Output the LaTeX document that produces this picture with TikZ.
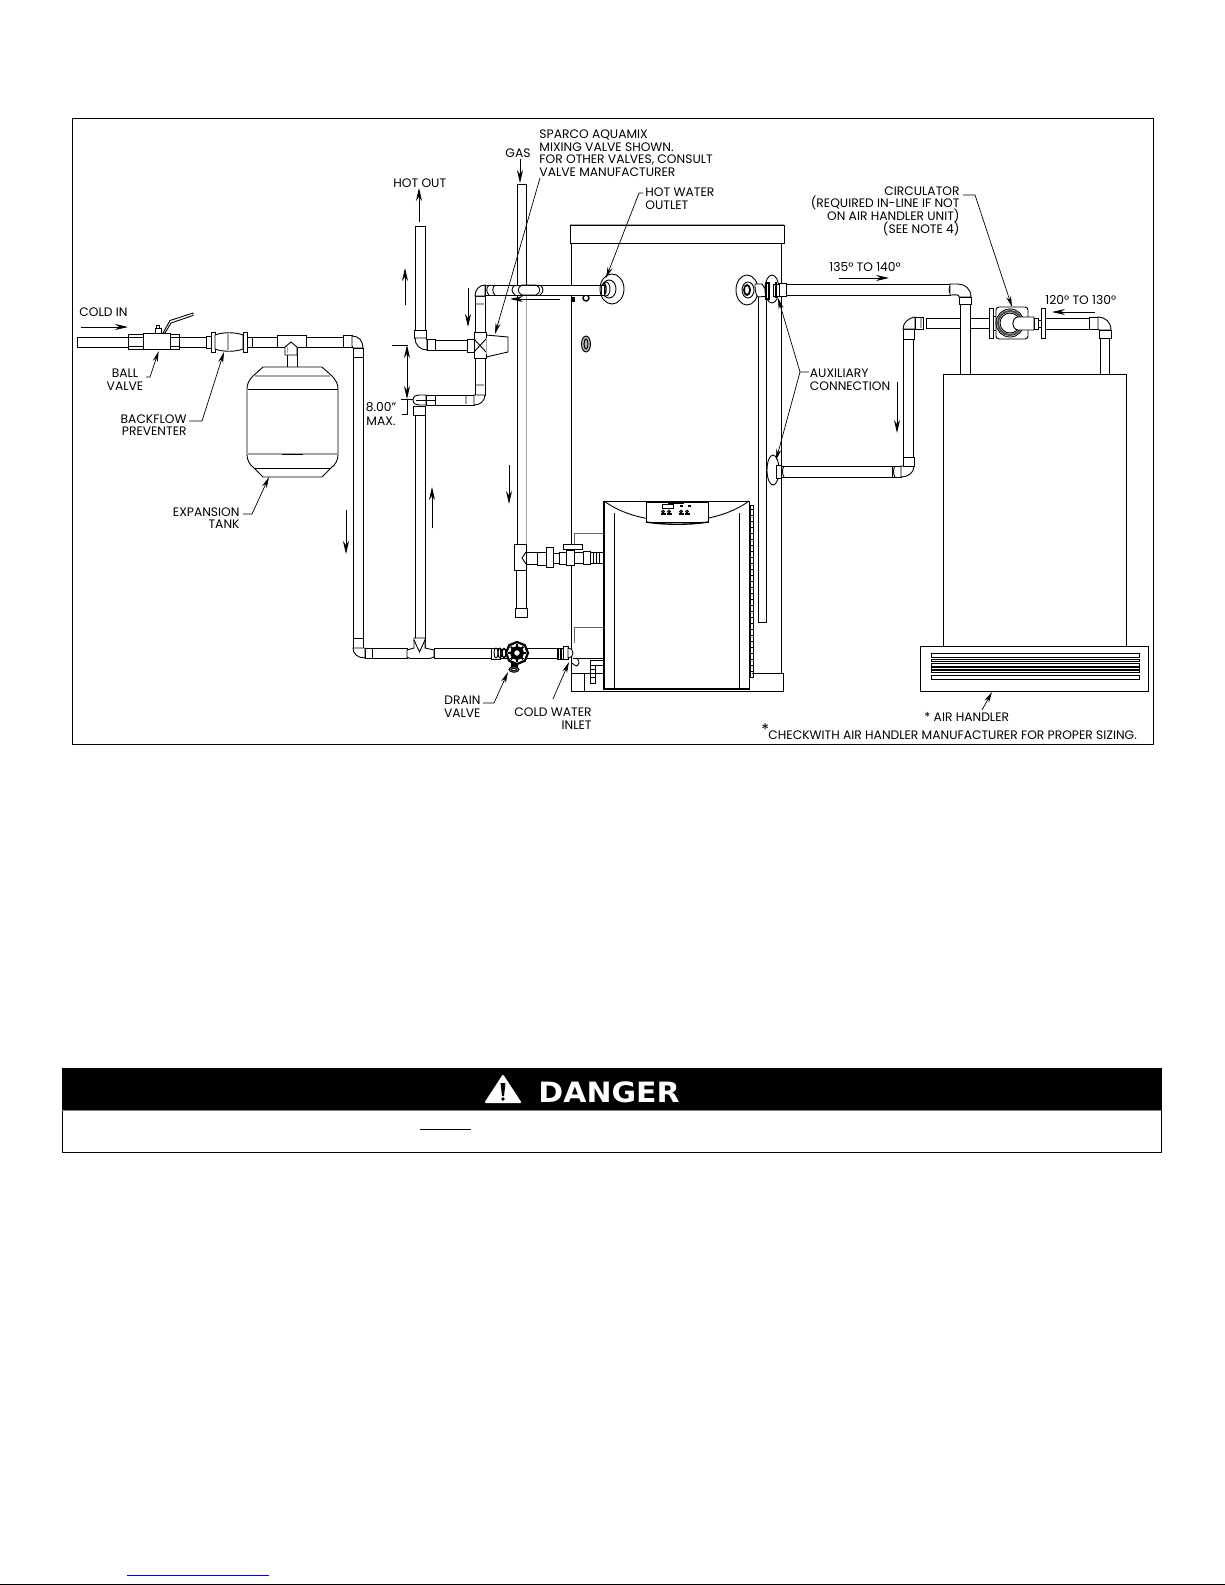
\documentclass[tikz,border=0pt]{standalone}
\usepackage{fontspec}
\setmainfont{Poppins}
\newfontfamily\dangerfont{DejaVu Sans}
\usetikzlibrary{arrows.meta}
\lineskiplimit=-20pt
\tikzset{
    lbl/.style={inner sep=0pt, font=\fontsize{12.3}{12.6}\selectfont},
    pipe/.style={draw, fill=white, line width=0.9pt},
    seam/.style={draw=gray!70, line width=1.4pt},
    flow/.style={line width=0.8pt, -{Stealth[length=13pt,width=6pt]}},
    leader/.style={line width=0.7pt, -{Stealth[length=11pt,width=5pt]}},
    dim/.style={line width=0.8pt, {Stealth[length=13pt,width=6pt]}-{Stealth[length=13pt,width=6pt]}},
}
\begin{document}
\begin{tikzpicture}[x=1pt,y=-1pt,line width=0.9pt]
        \useasboundingbox (0,0) rectangle (1225,1585);

        % frame
        \draw (72,118) rectangle (1153,744);

        % water heater
        \draw (571.5,243) -- (571.5,691) -- (783,691) -- (783,673) -- (752,673);
        \draw (781,243) -- (781,673);
        \draw[pipe] (570,225) rectangle (784,243);
        \draw[seam] (570,224.5) -- (784,224.5);
        \draw (571.5,673) -- (584,673) -- (584,691);
        \draw (584,673) -- (604,673);
        \draw[gray!80!black] (574,533) -- (604,533);
        \draw[gray!80!black] (574,533) -- (574,548);
        \draw[gray!80!black] (574,627) -- (604,627);
        \draw[gray!80!black] (574,627) -- (574,643);
        \draw (573,658) -- (604,658);
        \draw[pipe] (590,660) rectangle (604,665);
        \draw (590,665) rectangle (595,683);
        \foreach \ribY in {669,673,677} {\draw (590,\ribY) -- (595,\ribY);}
        \fill (572,297) rectangle (575,302);
        \draw[line width=1.4pt] (586,298) circle (3);
        \draw[fill=gray!60] (586,344) ellipse [x radius=4.5, y radius=8];
        \draw (586,344) ellipse [x radius=2, y radius=5];

        % gas line
        \draw[pipe] (517,184) rectangle (526,546);
        \draw[seam,line width=1pt] (526,296) -- (526,544);
        \draw[pipe] (516.5,570) rectangle (526,608);
        \draw[pipe] (515,608) rectangle (527,617);
        \draw[pipe] (526,552) rectangle (537,564);
        \draw[pipe] (514,544) rectangle (526,570);
        \draw (526,552) -- (522,558) -- (526,564);
        \draw[pipe] (537,552) rectangle (546,565);
        \draw[pipe] (546,547) rectangle (553,567);
        \draw[pipe] (553,553) rectangle (560,563);
        \draw[pipe] (559,552) rectangle (566,564);
        \draw[pipe] (566,550) rectangle (574,565);
        \draw[pipe] (574,552) rectangle (583,563);
        \draw[pipe] (583,551) rectangle (590,564);
        \draw[pipe] (590,552) rectangle (603,563);
        \foreach \ribX in {593,596,599} {\draw (\ribX,552) -- (\ribX,563);}
        \draw[pipe] (563,544) rectangle (582,549);
        \draw (571,549) -- (571,551);

        % boiler
        \draw[pipe] (604,501) rectangle (749,689);
        \draw[line width=2pt] (604,501) -- (604,689) -- (749,689);
        \draw (604,501) .. controls (640,528) and (713,528) .. (749,501);
        \draw (614,513) -- (614,689);
        \draw (739,513) -- (739,689);
        \draw[pipe] (646,502) rectangle (708,522);
        \draw[line width=1.4pt] (646,522) .. controls (665,525) and (690,525) .. (708,522);
        \draw (662,504) rectangle (673,508);
        \fill (668,501) rectangle (684,503.5);
        \foreach \btnX in {663,669,681,687} {
            \draw[line width=1pt] (\btnX,511.5) circle (1.3);
            \fill (\btnX-2.5,513) rectangle (\btnX+2.5,514.5);
        }
        \fill (680,505) rectangle (683,507);
        \fill (688,505) rectangle (691,507);
        \draw (750,505) rectangle (753,677);
        \foreach \hatchY in {509,515,...,675} {\draw[line width=0.5pt] (750,\hatchY) -- (753,\hatchY);}
        \draw (758,296) -- (758,622) -- (766,622) -- (766,296);

        % cold in line, ball valve
        \draw[pipe] (77,337) rectangle (128,347);
        \draw[pipe] (128,334) rectangle (143,349);
        \draw (128,337) -- (143,337);
        \draw (128,346) -- (143,346);
        \draw[pipe] (143,333) rectangle (170,349);
        \draw[pipe] (170,334) rectangle (179,349);
        \draw (170,337) -- (179,337);
        \draw (170,346) -- (179,346);
        \draw[pipe] (155,328) rectangle (161,333);
        \draw[pipe] (156.5,325.5) rectangle (159.5,328);
        \draw[pipe] (163,333) -- (170,320.5) -- (193,313) -- (193,315.5) -- (171,323) -- (165,333) -- cycle;

        % backflow preventer
        \draw[pipe] (179,337) rectangle (207,347);
        \draw[pipe] (206,336) rectangle (211,348);
        \draw[pipe] (211,332) rectangle (215,352);
        \draw[pipe] (215,335) .. controls (222,332) and (236,332) .. (243,335) -- (243,349) .. controls (236,352) and (222,352) .. (215,349) -- cycle;
        \draw[seam] (228,334) -- (228,350);
        \draw[pipe] (243,332) rectangle (247,352);
        \draw[pipe] (247,337) rectangle (252,347);

        % tee, tank
        \draw[pipe] (252,337) rectangle (277,347);
        \draw[pipe] (306,337) rectangle (343,347);
        \draw[pipe] (287,347) rectangle (297,367);
        \draw[pipe] (277,335) rectangle (306,347);
        \draw[pipe] (285,347) -- (291,342) -- (297,347) -- (297,355) -- (285,355) -- cycle;
        \draw[seam,line width=0.8pt] (287,347) -- (287,353);
        \draw[pipe] (263,367) -- (322,367) -- (332,376) .. controls (336,380) and (338,384) .. (338,389) -- (338,454) .. controls (338,460) and (336,464) .. (331,468) -- (322,477) -- (263,477) -- (254,468) .. controls (249,464) and (247,460) .. (247,454) -- (247,389) .. controls (247,384) and (249,380) .. (253,376) -- cycle;
        \draw[seam] (255,376) -- (330,376);
        \draw (247,389) -- (338,389);
        \draw[seam] (247,389) -- (247,454);
        \draw[seam] (247,454) -- (338,454);
        \draw (282,454) -- (303,454);
        \draw (254,468) -- (331,468);
        \draw[seam,line width=0.8pt] (263,477) -- (322,477);

        % down leg to the drain line
        \draw[pipe] (353,357) rectangle (363,638);
        \draw[pipe] (343,335.5) rectangle (352,347.5);
        \draw[pipe] (352,336) .. controls (359,336) and (363,341) .. (363,348) -- (353,348) -- (352,346) -- cycle;
        \draw[pipe] (353,348) rectangle (363,357);
        \draw[pipe] (353,638) rectangle (363,648);
        \draw[pipe] (353,648) -- (363,648) -- (365,648) -- (365,658) .. controls (358,658) and (353,654) .. (353,648) -- cycle;
        \draw[pipe] (365,648) rectangle (372,658);

        % drain line
        \draw[pipe] (372,648.5) rectangle (407,658);
        \draw[pipe] (434,648.5) rectangle (491,658);
        \draw[pipe] (415,415) rectangle (425,650);
        \draw[pipe] (407,650) -- (414,648) -- (414,638) -- (425,638) -- (425,648) -- (434,650) -- (434,657) -- (430,658.5) -- (410,658.5) -- (407,657) -- cycle;
        \draw (414,640) -- (419.5,652) -- (425,640);
        \draw[pipe] (517,648.5) rectangle (557,658);

        % drain valve
        \draw[pipe] (491,648) rectangle (500,659);
        \draw[pipe] (500,649) rectangle (517,658);
        \draw (496,653) ellipse [x radius=2, y radius=5];
        \draw (500,653) ellipse [x radius=2, y radius=5];
        \draw[line width=1.4pt] (504,653) ellipse [x radius=2, y radius=4.5];
        \fill (511,662) rectangle (518,668);
        \draw[fill=gray] (514,669.5) ellipse [x radius=5, y radius=2.8];
        \draw[fill=white] (514,669.5) ellipse [x radius=2.5, y radius=1.3];
        \draw[fill=white,line width=2.2pt] (528,653) -- (524.8,660.8) -- (517,664) -- (509.2,660.8) -- (506,653) -- (509.2,645.2) -- (517,642) -- (524.8,645.2) -- cycle;
        \foreach \spokeA in {0,45,...,315} {\draw[line width=1.8pt] (517,653) -- ++(\spokeA:9);}
        \draw[line width=4pt,fill=white] (517,653) circle (5);

        % cold water inlet
        \draw[pipe] (557,648) rectangle (563,659);
        \foreach \ribX in {558.5,560,561.5} {\draw (\ribX,648) -- (\ribX,659);}
        \draw[pipe] (563,646) rectangle (568,659.5);
        \draw[pipe] (568,648) .. controls (571,648) and (573,650) .. (573,653) .. controls (573,656) and (571,658) .. (568,658) -- cycle;
        \draw (576,658) .. controls (578,659) and (581,662) .. (577,666) .. controls (575,666) and (573,664) .. (572,663);

        % hot out riser, mixing valve
        \draw[pipe] (415,226) rectangle (425,331);
        \draw[pipe] (414,330) rectangle (426,338);
        \draw[pipe] (415,338) -- (426,338) -- (427,340) -- (427,350) .. controls (420,350) and (415,345) .. (415,338) -- cycle;
        \draw[pipe] (427,339) rectangle (435,350);
        \draw[pipe] (435,340) rectangle (467,350);
        \draw[pipe] (467,339) rectangle (475,352);
        \draw[pipe] (475,296) rectangle (485,333);
        \draw[seam] (476,304) -- (484,304);
        \draw[pipe] (475,358) rectangle (485,395);
        \draw[seam] (476,385) -- (484,385);
        \draw[pipe] (486,335) -- (508,337) -- (508,352) -- (486,357) -- cycle;
        \draw[pipe] (474,332) rectangle (486,358);
        \draw (474,339) -- (486,352);
        \draw (474,352) -- (486,339);
        \draw[seam,line width=1pt] (486,338) -- (486,354);

        % lower tie to the cross
        \draw[pipe] (435,395) rectangle (474,405);
        \draw[seam] (466,396) -- (466,404);
        \draw[pipe] (474,395) -- (485,395) .. controls (485,401) and (480,405) .. (474,405) -- cycle;
        \draw[pipe] (426,395) rectangle (435,405);
        \draw (413,400) .. controls (413,396) and (416,395) .. (419,395) -- (426,395) -- (426,405) -- (419,405) .. controls (416,405) and (413,404) .. (413,400) -- cycle;
        \draw[pipe] (413,406) rectangle (425,415);
        \draw (416,400) -- (436,400);

        % hot water outlet, across the gas line
        \draw[pipe] (475,296) .. controls (475,290) and (479,285) .. (485,285) -- (485,296) -- cycle;
        \draw[pipe] (485,285) rectangle (603,295);
        \draw (489,285) .. controls (486,288) and (486,292) .. (489,295);
        \draw (495,285) .. controls (492,288) and (492,292) .. (495,295);
        \draw (515,285) .. controls (511,288) and (511,292) .. (515,295);
        \draw (522,285) .. controls (517,287) and (517,293) .. (522,295);
        \draw (522,285) -- (536,285) .. controls (541,287) and (541,293) .. (536,295) -- (522,295);
        \draw (540,285) .. controls (544,288) and (544,292) .. (540,295);
        \draw[fill=white] (612,289) ellipse [x radius=12, y radius=15];
        \draw (609,289) ellipse [x radius=7, y radius=9];
        \draw (606,289) ellipse [x radius=4, y radius=7];
        \draw[line width=1.3pt] (604,289) ellipse [x radius=2, y radius=6];
        \draw[pipe] (601,285) rectangle (604,295);

        % heater outlet on the right
        \draw[fill=white] (747,290) ellipse [x radius=11, y radius=15];
        \draw[fill=white] (748,290) ellipse [x radius=6, y radius=8];
        \draw[line width=1.8pt] (747,290) ellipse [x radius=3, y radius=5];
        \draw[pipe] (755,284) -- (762,284) -- (770,296) -- (758,297) .. controls (755,294) and (755,288) .. (755,284) -- cycle;
        \draw[fill=white] (772,289) ellipse [x radius=7, y radius=14];
        \draw[pipe,line width=1.4pt] (766,283) rectangle (769,299);
        \draw[pipe] (773,284) rectangle (779,296);
        \draw[line width=1.8pt] (776,282) -- (776,298);
        \draw[pipe] (779,283) rectangle (786,296);
        \draw[pipe] (786,284) rectangle (950,295);
        \draw (952,284) .. controls (948,287) and (948,292) .. (952,295);
        \draw[pipe] (950,284) -- (958,284) .. controls (965,284) and (971,289) .. (971,297) -- (959,297) .. controls (959,294) and (956,295) .. (950,295) -- cycle;

        % second connection and the return to the handler
        \draw[pipe] (926,318) rectangle (989,328);
        \draw[pipe] (960.5,304) rectangle (970.5,374);
        \draw[pipe] (959,297) rectangle (971,304);
        \draw[fill=white] (773,470) ellipse [x radius=6, y radius=15];
        \draw[pipe] (776,465) rectangle (781,478);
        \draw[pipe] (781,466) rectangle (892,477);
        \draw (784,466) .. controls (782,469) and (782,474) .. (784,477);
        \draw[pipe] (892,466) rectangle (901,477);
        \draw (895,466) .. controls (893,469) and (893,474) .. (895,477);
        \draw[pipe] (901,477) .. controls (908,477) and (914,473) .. (914,466) -- (903,466) -- (901,466) -- cycle;
        \draw[pipe] (903.5,339) rectangle (913.5,457);
        \draw[pipe] (903,457) rectangle (914,466);
        \draw[pipe] (903,329) rectangle (914,339);
        \draw[pipe] (903,329) .. controls (903,323) and (908,318) .. (915,317) -- (915,329) -- cycle;
        \draw[pipe] (915,317) rectangle (923.5,329);
        \draw[seam] (921,318) -- (921,328);

        % circulator
        \draw[pipe] (989,308) rectangle (993,338);
        \draw[pipe] (993,316) rectangle (996,330);
        \draw[pipe,rounded corners=3pt] (996,307) rectangle (1028,339);
        \draw[line width=2pt,draw=gray!60!black] (1010,323) circle (12);
        \draw (1010,323) circle (14);
        \draw (1010,323) circle (10);
        \draw[pipe] (1018,317) .. controls (1011,318) and (1011,329) .. (1018,330) -- (1034,330) -- (1034,317) -- cycle;
        \draw[pipe] (1034,318) rectangle (1038,329);
        \draw[pipe] (1038,320) rectangle (1041,327);
        \draw[pipe] (1041,308) rectangle (1045,338);
        \draw[pipe] (1045,318) rectangle (1089,329);
        \draw[pipe] (1089,317) rectangle (1098,329);
        \draw[pipe] (1098,317) .. controls (1105,317) and (1111,322) .. (1111,330) -- (1099,330) -- (1098,329) -- cycle;
        \draw[pipe] (1099,330) rectangle (1111,338);
        \draw[pipe] (1100,338) rectangle (1109.5,374);

        % air handler
        \draw[pipe] (943,374) rectangle (1126,646);
        \draw[pipe] (920,646) rectangle (1148,691);
        \foreach \slotT/\slotB in {653/657.5,659/661.5,663/666,667.5/669.5,670.5/672.5,675/679} {
            \draw[line width=0.9pt] (931,\slotT) rectangle (1139,\slotB);
        }

        % flow arrows
        \draw[flow] (81,327) -- (128,327);
        \draw[flow] (419,222) -- (419,188);
        \draw[flow] (520,159) -- (520,183);
        \draw[flow] (405,305) -- (405,268);
        \draw[flow] (468,288) -- (468,327);
        \draw[flow] (560,299) -- (510,299);
        \draw[flow] (432,528) -- (432,487);
        \draw[flow] (346,510) -- (346,554);
        \draw[flow] (509,465) -- (509,504);
        \draw[flow] (839,278) -- (889,278);
        \draw[flow] (1095,312) -- (1052,312);
        \draw[flow] (897,382) -- (897,433);

        % 8.00 max
        \draw (392,345) -- (408,345);
        \draw (401,399) -- (413,399);
        \coordinate (dimtop) at (407,345);
        \coordinate (dimbot) at (407,399);
        \draw[dim] (dimtop) -- (dimbot);
        \draw (dimbot) -- (407,414) -- (402,414);
        \node [lbl, align=center] (lblmax) at (381,414){8.00"\\[1.5pt]MAX.};

        % labels
        \node [lbl, anchor=west] (lblcold) at (79,312){COLD IN};
        \node [lbl, anchor=west] (lblhot) at (393,183){HOT OUT};
        \node [lbl, anchor=west] (lblgas) at (505,153){GAS};
        \node [lbl, align=center] (lblball) at (125,380){BALL\\VALVE};
        \node [lbl, align=right, anchor=east] (lblback) at (187,425){BACKFLOW\\PREVENTER};
        \node [lbl, align=right, anchor=east] (lbltank) at (240,518){EXPANSION\\TANK};
        \node [lbl, align=left, anchor=west] (lblmix) at (539,153){SPARCO AQUAMIX\\MIXING VALVE SHOWN.\\FOR OTHER VALVES, CONSULT\\VALVE MANUFACTURER};
        \node [lbl, align=left, anchor=west] (lbloutlet) at (645,199){HOT WATER\\OUTLET};
        \node [lbl, align=right, anchor=east] (lblcirc) at (960,211){CIRCULATOR\\(REQUIRED IN-LINE IF NOT\\ON AIR HANDLER UNIT)\\(SEE NOTE 4)};
        \node [lbl, anchor=west] (lblhigh) at (829,267){135° TO 140°};
        \node [lbl, anchor=west] (lbllow) at (1045,300){120° TO 130°};
        \node [lbl, align=left, anchor=west] (lblaux) at (809.5,379.5){AUXILIARY\\CONNECTION};
        \node [lbl, align=right, anchor=east] (lbldrain) at (481,706.5){DRAIN\\VALVE};
        \node [lbl, align=right, anchor=east] (lblinlet) at (592,718.5){COLD WATER\\INLET};
        \node [lbl, anchor=west] (lblair) at (924,717){* AIR HANDLER};
        \node [lbl, anchor=west] (lblstar) at (761,730){\fontsize{16}{16}\selectfont *};
        \node [lbl, anchor=west] (lblcheck) at (768,735){CHECKWITH AIR HANDLER MANUFACTURER FOR PROPER SIZING.};

        % leaders
        \coordinate (balltip) at (158.7,351);
        \coordinate (backtip) at (224,352);
        \coordinate (tanktip) at (269,477);
        \coordinate (mixtip) at (495,334);
        \coordinate (outlettip) at (606,278);
        \coordinate (circtip) at (1012,307);
        \coordinate (auxtipa) at (778,298);
        \coordinate (auxtipb) at (776,460);
        \coordinate (draintip) at (508,672);
        \coordinate (inlettip) at (569,662);
        \coordinate (airtip) at (992,692);
        \draw[leader] (146,377) -- (150,377) -- (balltip);
        \draw[leader] (189,421) -- (202,421) -- (backtip);
        \draw[leader] (243,514) -- (252,514) -- (tanktip);
        \draw[leader] (540,178) -- (mixtip);
        \draw[leader] (643,193) -- (639,193) -- (outlettip);
        \draw[leader] (963,195) -- (975,195) -- (circtip);
        \draw[leader] (809,372) -- (800,372) -- (auxtipa);
        \draw[leader] (800,372) -- (auxtipb);
        \draw[leader] (483,703) -- (494,703) -- (draintip);
        \draw[leader] (553,699) -- (inlettip);
        \draw[leader] (982,710) -- (airtip);

        % danger bar
        \draw (62,1068) rectangle (1161,1152);
        \fill (62,1068) rectangle (1161,1110);
        \draw[gray] (62,1110) -- (1161,1110);
        \fill[white,draw=white,line join=round,line width=2pt] (503,1076) -- (520,1102) -- (486,1102) -- cycle;
        \fill (500.5,1083) -- (505.5,1083) -- (504,1096) -- (502,1096) -- cycle;
        \fill (503,1099) circle (1.8);
        \node [inner sep=0pt, text=white, anchor=west] (lbldanger) at (538,1092){\scalebox{1.07}[1]{\dangerfont\bfseries\fontsize{28}{28}\selectfont DANGER}};
        \draw (420,1129) -- (471,1129);

        % page foot
        \draw[blue,line width=1pt] (127,1575) -- (269,1575);
        \draw (0,1584) -- (1225,1584);
\end{tikzpicture}
\end{document}
